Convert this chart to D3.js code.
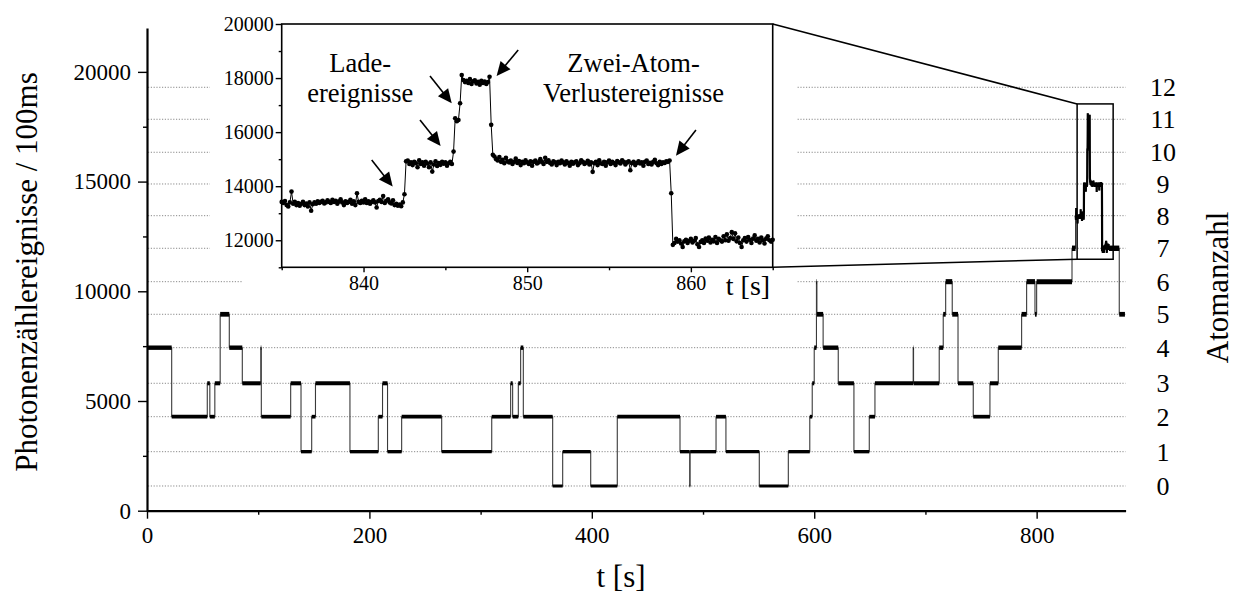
<!DOCTYPE html>
<html><head><meta charset="utf-8">
<script src="https://cdn.jsdelivr.net/npm/d3@7"></script>
<style>
body{margin:0;background:#fff}
svg text{font-family:"Liberation Serif","Times New Roman",serif !important;fill:#000}
</style>
</head><body>
<svg id="c" width="1238" height="594"></svg>
<script>
// ---------- data ----------
// main trace: plateau start times [s] and atom number on each plateau
const segStart = [0, 22.2, 54.2, 56.5, 61.0, 65.8, 74.0, 85.7, 102.3, 102.8, 129.2, 138.5, 148.1, 151.5, 182.5, 208.0, 211.8, 216.3, 229.0, 265.0, 310.0, 327.0, 328.8, 333.9, 336.0, 338.4, 364.8, 373.8, 399.0, 422.9, 479.3, 488.0, 488.4, 511.7, 520.6, 550.6, 576.7, 596.0, 598.2, 600.0, 602.0, 602.4, 608.0, 621.6, 635.7, 649.5, 654.6, 689.0, 689.3, 712.4, 716.0, 718.2, 724.1, 729.3, 743.0, 758.0, 765.5, 786.5, 791.0, 798.5, 800.0, 831.8, 865.0, 874.3];
const segAtoms = [4, 2, 3, 2, 3, 5, 4, 3, 4, 2, 3, 1, 2, 3, 1, 2, 3, 1, 2, 1, 2, 3, 2, 3, 4, 2, 0, 1, 0, 2, 1, 0, 1, 2, 1, 0, 1, 2, 3, 4, 6, 5, 4, 3, 1, 2, 3, 4, 3, 4, 5, 6, 5, 3, 2, 3, 4, 5, 6, 5, 6, 7, 7, 5];
const segEndTime = 879.4;
// photon counts per 100 ms belonging to 0..12 atoms (dotted lines, right axis)
const atomLevels = [1126, 2690, 4285, 5807, 7430, 8952, 10438, 11960, 13446, 14891, 16336, 17840, 19298];
const atomLabels = ["0","1","2","3","4","5","6","7","8","9","10","11","12"];
const xTicksMain = [0, 200, 400, 600, 800];
const xMinorMain = [100, 300, 500, 700];
const yTicksMain = [0, 5000, 10000, 15000, 20000];
const yMinorMain = [2500, 7500, 12500, 17500];

// inset: 100 ms samples from 835.0 s to 865.0 s
const insetT0 = 835.0, insetDt = 0.1;
const insetCounts = [
13420,13380,13450,13300,13250,13400,13800,13350,13420,13300,
13380,13280,13350,13420,13300,13360,13250,13400,13090,13330,
13400,13350,13440,13380,13420,13460,13360,13400,13480,13420,
13380,13500,13420,13460,13350,13430,13520,13400,13300,13440,
13380,13420,13500,13350,13440,13300,13740,13420,13380,13460,
13400,13520,13380,13440,13350,13420,13480,13400,13210,13450,
13500,13420,13640,13380,13460,13520,13400,13360,13480,13300,
13350,13280,13320,13260,13400,13700,14920,14950,14820,14880,
14780,14900,14850,14700,14960,14820,14880,14760,14900,14840,
14700,14880,14540,14800,14920,14750,14860,14790,14900,14830,
14880,14760,14850,14900,14820,15280,16510,16400,16450,17070,
18110,17930,17850,17900,17820,17960,17780,17880,17920,17800,
17860,17750,17900,17820,17870,17780,17850,18050,16270,15160,
15100,15000,14950,15080,14900,14980,14850,15050,14920,14880,
14950,14820,14900,15020,14860,14930,14780,14900,14850,14960,
14880,14820,14920,14760,14900,14950,14840,14880,15000,14900,
14820,15050,14900,14960,14860,14800,14920,14880,14780,14900,
14850,14950,14880,14800,14920,14860,14760,14900,14830,14880,
14920,14780,14850,14960,14900,14820,14870,14940,14800,14880,
14530,14850,14900,14780,14960,14850,14820,14900,14760,14880,
14950,14820,14900,14860,14780,14930,14880,14840,14960,14900,
14800,14880,14920,14590,14850,14900,14780,14860,14920,14840,
14880,14760,14900,14950,14820,14870,14800,14900,14980,14850,
14780,14900,14820,14880,14860,14920,14900,14950,13740,11830,
11900,12050,11950,12000,11880,11750,11960,12020,11900,11980,
12050,11920,11980,12080,11850,11750,11940,12000,11900,12060,
11980,12100,11920,12020,11960,12120,11900,12050,12000,11950,
12150,12000,12220,11980,12080,12300,12050,12260,11960,12100,
11900,11750,12000,12080,11950,12120,12020,11900,12060,12180,
11980,12050,11920,12100,12000,11880,12060,12150,12000,11950,
12020];
const insetXTicks = [840, 850, 860];
const insetXMinor = [835, 845, 855, 865];
const insetYTicks = [12000, 14000, 16000, 18000, 20000];
const insetYMinor = [11000, 13000, 15000, 17000, 19000];
// zoom box in main-chart data units
const zoomT = [836.4, 868.8];
const zoomC = [11460, 18540];
// annotation arrows in inset data units: [tailT, tailC, tipT, tipC]
const arrows = [
  [840.50, 14972, 841.78, 13985],
  [843.45, 16451, 844.71, 15490],
  [844.06, 18078, 845.39, 17068],
  [849.45, 19039, 848.13, 18078],
  [860.31, 16081, 859.09, 15131]
];
const annotations = [
  {t: 839.8, c: 18220, lines: ["Lade-", "ereignisse"]},
  {t: 856.5, c: 18220, lines: ["Zwei-Atom-", "Verlustereignisse"]}
];

// ---------- drawing ----------
const FONT = '"Liberation Serif","Times New Roman",serif';
const svg = d3.select("#c");
const x = d3.scaleLinear().domain([0, 880]).range([147, 1125.6]);
const y = d3.scaleLinear().domain([0, 22000]).range([510.7, 28]);

// dotted atom-number lines
svg.append("g").selectAll("line").data(atomLevels).join("line")
  .attr("x1", x(0) + 1).attr("x2", x(880))
  .attr("y1", d => y(d)).attr("y2", d => y(d))
  .attr("stroke", "#8a8a8a").attr("stroke-width", 1).attr("stroke-dasharray", "1.2,1.6");

// right labels
svg.append("g").selectAll("text").data(atomLevels).join("text")
  .attr("x", 1163).attr("y", d => y(d)).attr("dy", "0.35em")
  .attr("text-anchor", "middle").attr("font-size", 26)
  .text((d, i) => atomLabels[i]);
svg.append("text").attr("transform", "translate(1228,287.5) rotate(-90)")
  .attr("text-anchor", "middle").attr("font-size", 31).text("Atomanzahl");

// main trace
const pre = [], post = [];
const segs = segStart.map((s, i) => {
  let e = i + 1 < segStart.length ? segStart[i + 1] : segEndTime;
  if (s < insetT0 && e > insetT0) e = insetT0;
  return {s, e, v: atomLevels[segAtoms[i]], n: segAtoms[i]};
});
segs.forEach(g => {
  const arr = g.s < insetT0 ? pre : post;
  arr.push([g.s, g.v], [g.e, g.v]);
});
const insetPts = insetCounts.map((c, i) => [insetT0 + i * insetDt, c]);
const allPts = pre.concat(insetPts, post);
const line = d3.line().x(d => x(d[0])).y(d => y(d[1]));
svg.append("path").attr("d", line(allPts)).attr("fill", "none")
  .attr("stroke", "#3a3a3a").attr("stroke-width", 1.1);
svg.append("path").attr("d", line(insetPts)).attr("fill", "none")
  .attr("stroke", "#000").attr("stroke-width", 2.2);
svg.append("g").selectAll("line").data(segs).join("line")
  .attr("x1", d => x(d.s)).attr("x2", d => x(d.e))
  .attr("y1", d => y(d.v)).attr("y2", d => y(d.v))
  .attr("stroke", "#000").attr("stroke-width", d => 3 + 0.35 * d.n);

// zoom box
svg.append("rect").attr("x", x(zoomT[0])).attr("y", y(zoomC[1]))
  .attr("width", x(zoomT[1]) - x(zoomT[0])).attr("height", y(zoomC[0]) - y(zoomC[1]))
  .attr("fill", "none").attr("stroke", "#000").attr("stroke-width", 1.5);

// main axes
const gx = svg.append("g").attr("transform", `translate(0,${y(0)})`)
  .call(d3.axisBottom(x).tickValues(xTicksMain).tickFormat(d3.format("d")).tickSize(8).tickPadding(8).tickSizeOuter(0));
svg.append("g").attr("transform", `translate(0,${y(0)})`)
  .call(d3.axisBottom(x).tickValues(xMinorMain).tickSize(4).tickFormat("").tickSizeOuter(0))
  .select(".domain").remove();
const gy = svg.append("g").attr("transform", `translate(${x(0)},0)`)
  .call(d3.axisLeft(y).tickValues(yTicksMain).tickFormat(d3.format("d")).tickSize(9).tickPadding(7).tickSizeOuter(0));
svg.append("g").attr("transform", `translate(${x(0)},0)`)
  .call(d3.axisLeft(y).tickValues(yMinorMain).tickSize(4).tickFormat("").tickSizeOuter(0))
  .select(".domain").remove();
svg.selectAll(".domain").attr("stroke", "#000").attr("stroke-width", 2.2);
svg.selectAll(".tick line").attr("stroke", "#000").attr("stroke-width", 1.4);
gx.selectAll("text").attr("font-size", 23);
gy.selectAll("text").attr("font-size", 23);

svg.append("text").attr("x", 621).attr("y", 587).attr("text-anchor", "middle")
  .attr("font-size", 31).text("t [s]");
svg.append("text").attr("transform", "translate(37,272) rotate(-90)")
  .attr("text-anchor", "middle").attr("font-size", 31).text("Photonenzählereignisse / 100ms");

// ---------- inset ----------
const ix = d3.scaleLinear().domain([835, 865]).range([281.7, 772.7]);
const iy = d3.scaleLinear().domain([11000, 20000]).range([267.3, 24]);
// white background hiding dotted lines
svg.append("rect").attr("x", 210).attr("y", 0).attr("width", 587).attr("height", 272).attr("fill", "#fff");
svg.append("rect").attr("x", 242).attr("y", 272).attr("width", 555).attr("height", 28).attr("fill", "#fff");

// connecting lines
svg.append("line").attr("x1", ix(865)).attr("y1", iy(20000))
  .attr("x2", x(zoomT[0])).attr("y2", y(zoomC[1])).attr("stroke", "#000").attr("stroke-width", 1.5);
svg.append("line").attr("x1", ix(865)).attr("y1", iy(11000))
  .attr("x2", x(zoomT[0])).attr("y2", y(zoomC[0])).attr("stroke", "#000").attr("stroke-width", 1.5);

const ig = svg.append("g");
const iline = d3.line().x(d => ix(d[0])).y(d => iy(d[1]));
ig.append("path").attr("d", iline(insetPts)).attr("fill", "none")
  .attr("stroke", "#000").attr("stroke-width", 1);
ig.append("g").selectAll("circle").data(insetPts).join("circle")
  .attr("cx", d => ix(d[0])).attr("cy", d => iy(d[1])).attr("r", 2.3).attr("fill", "#000");

ig.append("rect").attr("x", ix(835)).attr("y", iy(20000))
  .attr("width", ix(865) - ix(835)).attr("height", iy(11000) - iy(20000))
  .attr("fill", "none").attr("stroke", "#000").attr("stroke-width", 1.6);

const igx = ig.append("g").attr("transform", `translate(0,${iy(11000)})`)
  .call(d3.axisBottom(ix).tickValues(insetXTicks).tickFormat(d3.format("d")).tickSize(5).tickPadding(4).tickSizeOuter(0));
ig.append("g").attr("transform", `translate(0,${iy(11000)})`)
  .call(d3.axisBottom(ix).tickValues(insetXMinor).tickSize(3).tickFormat("").tickSizeOuter(0));
const igy = ig.append("g").attr("transform", `translate(${ix(835)},0)`)
  .call(d3.axisLeft(iy).tickValues(insetYTicks).tickFormat(d3.format("d")).tickSize(6).tickPadding(2).tickSizeOuter(0));
ig.append("g").attr("transform", `translate(${ix(835)},0)`)
  .call(d3.axisLeft(iy).tickValues(insetYMinor).tickSize(3).tickFormat("").tickSizeOuter(0));
ig.selectAll(".domain").remove();
ig.selectAll(".tick line").attr("stroke", "#000").attr("stroke-width", 1.4);
igx.selectAll("text").attr("font-size", 20);
igy.selectAll("text").attr("font-size", 20);
svg.append("text").attr("x", 748).attr("y", 295).attr("text-anchor", "middle")
  .attr("font-size", 28).text("t [s]");

// annotations (two-line labels as one text element)
annotations.forEach(a => {
  const t = ig.append("text").attr("text-anchor", "middle").attr("font-size", 26.5)
    .attr("x", ix(a.t)).attr("y", iy(a.c));
  a.lines.forEach((s, k) => t.append("tspan").attr("x", ix(a.t)).attr("dy", k === 0 ? 0 : 29.5).text(s));
});
arrows.forEach(a => {
  const x0 = ix(a[0]), y0 = iy(a[1]), x1 = ix(a[2]), y1 = iy(a[3]);
  const dx = x1 - x0, dy = y1 - y0, L = Math.hypot(dx, dy), ux = dx / L, uy = dy / L;
  const hl = 14, hw = 6.5;
  const bx = x1 - ux * hl, by = y1 - uy * hl;
  ig.append("line").attr("x1", x0).attr("y1", y0).attr("x2", bx + ux * 2).attr("y2", by + uy * 2)
    .attr("stroke", "#000").attr("stroke-width", 1.6);
  ig.append("path").attr("d", `M${x1},${y1}L${bx - uy * hw},${by + ux * hw}L${bx + uy * hw},${by - ux * hw}Z`)
    .attr("fill", "#000");
});
svg.selectAll("text").style("font-family", FONT);
</script>
</body></html>
